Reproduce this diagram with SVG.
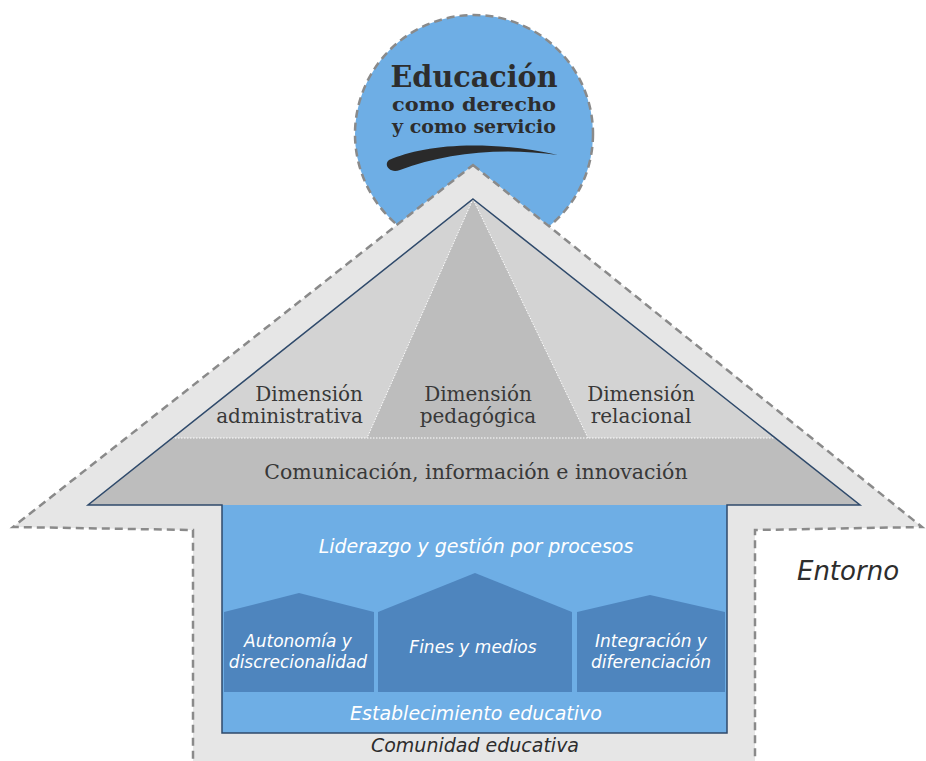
<svg xmlns="http://www.w3.org/2000/svg" width="926" height="761" viewBox="0 0 926 761">
<style>
.dash{stroke:#8a8a8a;stroke-width:2.5;stroke-dasharray:8 5;}
.dot{stroke:#ffffff;stroke-width:1;stroke-dasharray:1.5 1.5;fill:none;}
.roof{font-family:"DejaVu Serif","Liberation Serif",serif;fill:#383838;font-size:20px;text-anchor:middle;}
.wit{font-family:"DejaVu Sans","Noto Sans",sans-serif;font-style:italic;fill:#ffffff;font-size:19px;text-anchor:middle;}
.pt{font-size:17px;}
.dit{font-family:"DejaVu Sans","Noto Sans",sans-serif;font-style:italic;fill:#2d2d2d;text-anchor:middle;}
.pent{fill:#4e85be;}
.head{font-family:"DejaVu Serif","Liberation Serif",serif;font-weight:bold;fill:#2d2d2d;text-anchor:middle;}
</style>
<rect width="926" height="761" fill="#ffffff"/>
<g id="circle">
<circle cx="474" cy="134" r="119" fill="#6eaee5" class="dash"/>
<text x="474" y="87" class="head" font-size="30" textLength="167" lengthAdjust="spacingAndGlyphs">Educación</text>
<text x="474" y="111" class="head" font-size="18" textLength="164" lengthAdjust="spacingAndGlyphs">como derecho</text>
<text x="474" y="133" class="head" font-size="18" textLength="164" lengthAdjust="spacingAndGlyphs">y como servicio</text>
<path d="M 389 160 C 420 146, 480 138, 558 155 C 500 147, 445 153, 400 170 C 390 174, 383 165, 389 160 Z" fill="#2a2a2a"/>
</g>
<g id="entorno">
<polygon points="473,165 922,527 755,530 755,765 193,765 193,530 13,527" fill="#e6e6e6" class="dash" stroke-linejoin="miter"/>
<text x="848" y="580" class="dit" font-size="26">Entorno</text>
<text x="475" y="752" class="dit" font-size="19">Comunidad educativa</text>
</g>
<g id="roof">
<polygon points="473,199 860,505 88,505" fill="#bdbdbd"/>
<polygon points="473,199 367,438 172,438" fill="#d3d3d3"/>
<polygon points="473,199 588,438 775,438" fill="#d3d3d3"/>
<line x1="172" y1="438" x2="775" y2="438" class="dot"/>
<line x1="473" y1="199" x2="367" y2="438" class="dot"/>
<line x1="473" y1="199" x2="588" y2="438" class="dot"/>
</g>
<g id="dim-administrativa">
<text x="363" y="401" class="roof" style="text-anchor:end">Dimensión</text>
<text x="363" y="423" class="roof" style="text-anchor:end">administrativa</text>
</g>
<g id="dim-pedagogica">
<text x="478" y="401" class="roof">Dimensión</text>
<text x="478" y="423" class="roof">pedagógica</text>
</g>
<g id="dim-relacional">
<text x="641" y="401" class="roof">Dimensión</text>
<text x="641" y="423" class="roof">relacional</text>
</g>
<g id="comunicacion">
<text x="476" y="479" class="roof" style="font-size:20.5px">Comunicación, información e innovación</text>
</g>
<g id="establecimiento">
<rect x="222" y="505" width="505" height="228" fill="#6eaee5"/>
<text x="476" y="553" class="wit">Liderazgo y gestión por procesos</text>
<text x="476" y="720" class="wit">Establecimiento educativo</text>
</g>
<g id="autonomia">
<polygon points="224,612 299,593 374,612 374,692 224,692" class="pent"/>
<text x="298" y="647" class="wit pt">Autonomía y</text>
<text x="298" y="668" class="wit pt">discrecionalidad</text>
</g>
<g id="fines">
<polygon points="378,612 475,573 572,612 572,692 378,692" class="pent"/>
<text x="473" y="653" class="wit pt">Fines y medios</text>
</g>
<g id="integracion">
<polygon points="577,612 650,595 725,612 725,692 577,692" class="pent"/>
<text x="651" y="647" class="wit pt">Integración y</text>
<text x="651" y="668" class="wit pt">diferenciación</text>
</g>
<g id="connectors">
<polygon points="473,199 860,505 727,505 727,733 222,733 222,505 88,505" fill="none" stroke="#2f4a6b" stroke-width="1.5"/>
</g>
</svg>
